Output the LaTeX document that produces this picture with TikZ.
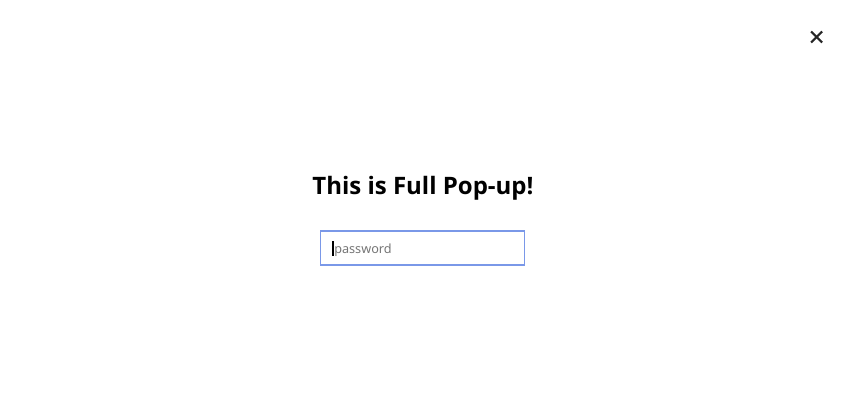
\documentclass[tikz,border=0pt]{standalone}
\usepackage{fontspec}
\setmainfont{Noto Sans}
\newfontfamily\titlefont{Open Sans}[BoldFont={* Bold}]
\definecolor{inputblue}{RGB}{122,152,232}
\definecolor{hintgray}{RGB}{117,117,117}
\tikzset{
  titletext/.style={font=\titlefont\fontsize{18}{21}\selectfont\bfseries, inner sep=0pt},
  hinttext/.style={font=\fontsize{9.5}{11}\selectfont, text=hintgray, inner sep=0pt},
  inputbox/.style={draw=inputblue, line width=1.1pt, minimum width=153pt, minimum height=25.5pt, inner sep=0pt},
  closeline/.style={line width=1.6pt, color=black!85},
}
\begin{document}
\begin{tikzpicture}[x=0.75pt,y=0.75pt,yscale=-1,xscale=1]
\useasboundingbox (0,0) rectangle (845,417);

% Title
\node [titletext] (title) at (423,188.5) {This is Full Pop-up!};

% Input field
\node [inputbox] (field) at (422.75,248) {};
\node [hinttext, anchor=west] (hint) at (334,250) {password};
\draw [line width=0.8pt] (333,241) -- (333,256) ;

% Close button
\coordinate (xa) at (811,31.5);
\coordinate (xb) at (822,42.5);
\coordinate (xc) at (811,42.5);
\coordinate (xd) at (822,31.5);
\draw [closeline] (xa) -- (xb) ;
\draw [closeline] (xc) -- (xd) ;

\end{tikzpicture}
\end{document}
